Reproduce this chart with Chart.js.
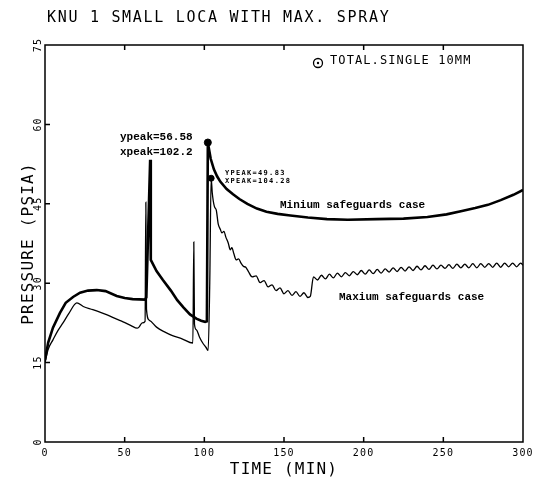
<!DOCTYPE html>
<html><head><meta charset="utf-8">
<script src="https://cdn.jsdelivr.net/npm/chart.js@4/dist/chart.umd.min.js"></script>
<style>html,body{margin:0;padding:0;background:#fff;}canvas{display:block;}</style>
</head><body>
<canvas id="c" width="538" height="479"></canvas>
<script>
const chartTitle = 'KNU 1 SMALL LOCA WITH MAX. SPRAY';
const xTitle = 'TIME (MIN)';
const yTitle = 'PRESSURE (PSIA)';
const legendLabel = 'TOTAL.SINGLE 10MM';
const xTicks = [0, 50, 100, 150, 200, 250, 300];
const yTicks = [0, 15, 30, 45, 60, 75];
const seriesLabels = ['Minium safeguards case', 'Maxium safeguards case'];

// Minimum safeguards case (thick line)
const minTime = [0, 2, 5, 9.4, 13, 17.6, 22, 27, 32.5, 38, 45, 50, 55, 62.8, 63.6, 66, 66.4, 70, 74, 79, 83, 87, 91, 95, 98, 100.5, 101.6, 102.2, 104, 106, 108, 110, 114, 118, 122, 127, 133, 139, 146, 154, 165, 177, 190, 208, 225, 240, 252, 261, 270, 278, 286, 294, 300];
const minPressure = [15.5, 18.8, 21.6, 24.4, 26.3, 27.4, 28.2, 28.6, 28.7, 28.5, 27.6, 27.2, 27.0, 26.9, 27.3, 53.3, 34.4, 32.3, 30.6, 28.6, 26.8, 25.4, 24.1, 23.3, 22.9, 22.7, 22.8, 56.58, 53.5, 51.5, 50.2, 49.2, 47.8, 46.8, 45.9, 45.0, 44.1, 43.5, 43.1, 42.8, 42.4, 42.1, 42.0, 42.1, 42.2, 42.5, 43.0, 43.6, 44.2, 44.8, 45.7, 46.7, 47.6];

// Maximum safeguards case (thin line)
const maxTime = [0, 2, 5, 8, 11.3, 15, 20, 24, 30, 39, 45, 49, 54, 57.8, 59, 61, 62.8, 63.3, 63.7, 65.5, 70, 75, 80, 86, 92.8, 93.4, 93.8, 95, 97, 99, 101, 102.4, 103.4, 104.28, 105, 106.3, 107.5, 108.7, 110, 111, 112.3, 113.5, 115, 116.3, 117.3, 118.5, 120, 121.5, 123, 124.5, 126,
  127.5, 130, 132.5, 135, 137.5, 140, 142.5, 145, 147.5, 150, 152.5, 155, 157.5, 160, 162.5, 165, 166.5,
  168.5, 171, 173.5, 176, 178.5, 181, 183.5, 186, 188.5, 191, 193.5, 196, 198.5, 201, 203.5, 206, 208.5, 211, 213.5, 216, 218.5, 221, 223.5, 226, 228.5, 231, 233.5, 236, 238.5, 241, 243.5, 246, 248.5, 251, 253.5, 256, 258.5, 261, 263.5, 266, 268.5, 271, 273.5, 276, 278.5, 281, 283.5, 286, 288.5, 291, 293.5, 296, 298.5, 300];
const maxPressure = [15, 17.5, 19.3, 21, 22.5, 24.3, 26.3, 25.6, 25, 24, 23.2, 22.7, 22, 21.5, 21.7, 22.5, 22.8, 45.3, 25, 23, 21.7, 20.8, 20.1, 19.5, 18.7, 37.8, 22.3, 21.2, 19.8, 18.7, 17.9, 17.3, 30, 49.83, 47, 44.5, 43.8, 41.2, 40.2, 39.5, 39.8, 38.7, 37.6, 36.3, 36.7, 35.6, 34.4, 34.6, 33.8, 33.2, 33.0,
  32.3, 31.2, 31.4, 30.1, 30.5, 29.3, 29.7, 28.6, 29.1, 28.0, 28.6, 27.7, 28.4, 27.5, 28.2, 27.3, 27.5,
  31.2, 30.6, 31.5, 30.8, 31.7, 31.0, 31.9, 31.2, 32.0, 31.4, 32.2, 31.6, 32.4, 31.7, 32.5, 31.8, 32.6, 31.9, 32.7, 32.1, 32.9, 32.2, 33.0, 32.3, 33.1, 32.4, 33.2, 32.5, 33.3, 32.6, 33.4, 32.7, 33.4, 32.8, 33.5, 32.8, 33.6, 32.9, 33.6, 32.9, 33.7, 32.9, 33.7, 33.0, 33.7, 33.0, 33.8, 33.0, 33.8, 33.1, 33.8, 33.1, 33.8, 33.4];

const peakTime = [102.2, 104.28];
const peakPressure = [56.58, 49.83];
const peakLabels = [['ypeak=56.58', 'xpeak=102.2'], ['YPEAK=49.83', 'XPEAK=104.28']];

const toXY = (xs, ys) => xs.map((x, i) => ({ x: x, y: ys[i] }));
const MONO = '"DejaVu Sans Mono", monospace';
const TYPE = '"Liberation Mono", "Courier New", monospace';

const decor = {
  id: 'decor',
  beforeDraw(chart) { chart.ctx.letterSpacing = '1.2px'; },
  beforeDatasetsDraw(chart) { chart.ctx.letterSpacing = '0px'; },
  afterDatasetsDraw(chart) {
    const { ctx, chartArea: a, scales: { x, y } } = chart;
    ctx.save();
    ctx.strokeStyle = '#000';
    ctx.lineWidth = 1.5;
    ctx.strokeRect(a.left, a.top, a.right - a.left, a.bottom - a.top);
    ctx.beginPath();
    x.ticks.forEach(t => {
      if (t.value <= x.min || t.value >= x.max) return;
      const px = x.getPixelForValue(t.value);
      ctx.moveTo(px, a.bottom); ctx.lineTo(px, a.bottom - 5);
      ctx.moveTo(px, a.top); ctx.lineTo(px, a.top + 5);
    });
    y.ticks.forEach(t => {
      if (t.value <= y.min || t.value >= y.max) return;
      const py = y.getPixelForValue(t.value);
      ctx.moveTo(a.left, py); ctx.lineTo(a.left + 5, py);
    });
    ctx.stroke();

    ctx.fillStyle = '#000';
    ctx.textBaseline = 'middle';
    ctx.textAlign = 'left';
    // main title
    ctx.letterSpacing = '1.7px';
    ctx.font = '15px ' + MONO;
    ctx.fillText(chartTitle, 47, 18);
    // legend
    ctx.lineWidth = 1.3;
    ctx.beginPath(); ctx.arc(318, 63, 4.5, 0, Math.PI * 2); ctx.stroke();
    ctx.beginPath(); ctx.arc(318, 63, 1.2, 0, Math.PI * 2); ctx.fill();
    ctx.letterSpacing = '1.1px';
    ctx.font = '12px ' + MONO;
    ctx.fillText(legendLabel, 330, 61);
    // peak labels
    ctx.letterSpacing = '0px';
    ctx.font = 'bold 11px ' + TYPE;
    ctx.fillText(peakLabels[0][0], 120, 137);
    ctx.fillText(peakLabels[0][1], 120, 152);
    ctx.letterSpacing = '1.3px';
    ctx.font = 'bold 7px ' + MONO;
    ctx.fillText(peakLabels[1][0], 225, 173);
    ctx.fillText(peakLabels[1][1], 225, 181);
    // series labels
    ctx.letterSpacing = '0px';
    ctx.font = 'bold 11px ' + TYPE;
    ctx.fillText(seriesLabels[0], 280, 205);
    ctx.fillText(seriesLabels[1], 339, 297);
    ctx.restore();
  }
};

new Chart(document.getElementById('c'), {
  type: 'line',
  data: {
    datasets: [
      { label: seriesLabels[0], data: toXY(minTime, minPressure), borderColor: '#000', borderWidth: 2.6, pointRadius: 0, fill: false, tension: 0 },
      { label: seriesLabels[1], data: toXY(maxTime, maxPressure), borderColor: '#000', borderWidth: 1.3, pointRadius: 0, fill: false, cubicInterpolationMode: 'monotone' },
      { type: 'scatter', label: 'peaks', data: toXY(peakTime, peakPressure), pointRadius: [3.5, 3], pointBackgroundColor: '#000', pointBorderColor: '#000', showLine: false }
    ]
  },
  options: {
    responsive: false, animation: false, devicePixelRatio: 1,
    layout: { padding: { top: 45, right: 15, left: 0, bottom: 0 } },
    plugins: { legend: { display: false }, tooltip: { enabled: false }, title: { display: false } },
    scales: {
      x: {
        type: 'linear', min: 0, max: 300,
        afterBuildTicks: s => { s.ticks = xTicks.map(v => ({ value: v })); },
        afterFit: s => { s.height = 37; },
        grid: { display: false, drawTicks: false }, border: { display: false },
        ticks: { color: '#000', padding: 5, maxRotation: 0, font: { family: MONO, size: 10 } },
        title: { display: true, text: xTitle, color: '#000', padding: { top: 0, bottom: 0 }, font: { family: MONO, size: 16 } }
      },
      y: {
        type: 'linear', min: 0, max: 75,
        afterBuildTicks: s => { s.ticks = yTicks.map(v => ({ value: v })); },
        afterFit: s => { s.width = 45; },
        grid: { display: false, drawTicks: false }, border: { display: false },
        ticks: { color: '#000', padding: 1, minRotation: 90, maxRotation: 90, crossAlign: 'center', font: { family: MONO, size: 10 } },
        title: { display: true, text: yTitle, color: '#000', padding: { top: 19, bottom: 0 }, font: { family: MONO, size: 16 } }
      }
    }
  },
  plugins: [decor]
});
</script>
</body></html>
